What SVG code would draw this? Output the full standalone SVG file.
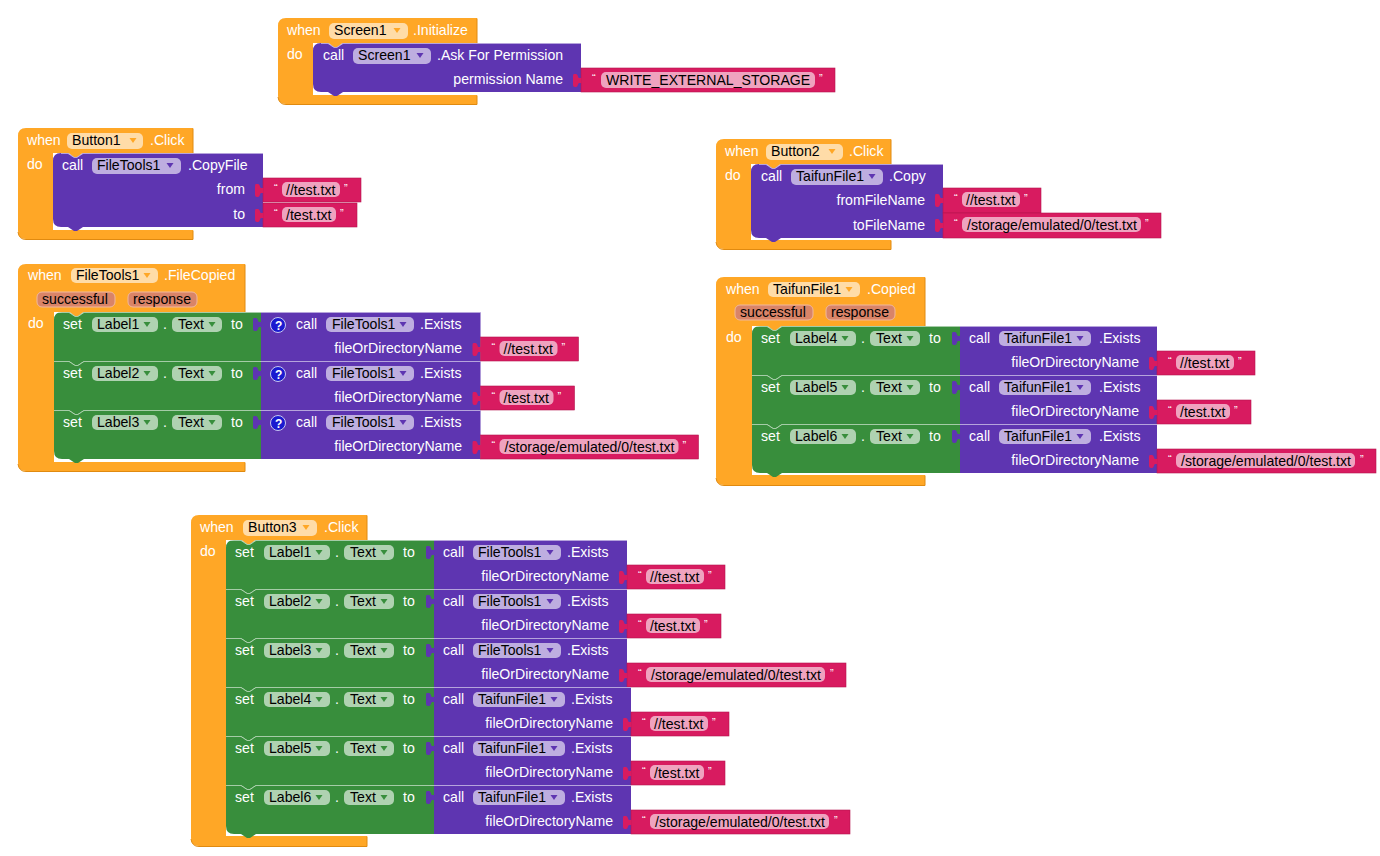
<svg xmlns="http://www.w3.org/2000/svg" width="1380" height="856" viewBox="0 0 1380 856">
<style>
text{font-family:"Liberation Sans",Arial,sans-serif;font-size:14.1px;fill:#fff}
text.k{fill:#000}
text.e{text-anchor:end}
text.q{font-size:11px}
text.h{font-size:12px;font-weight:bold}
.o{fill:#ffa726}.od{fill:none;stroke:#e08a10;stroke-width:1}
.p{fill:#5e35b1}.g{fill:#388e3c}.m{fill:#d81b60}
rect.m{stroke:#b5164f;stroke-width:.6}
.w{fill:#fff;fill-opacity:.6}
.pp{fill:#d98468;stroke:#f0b79e;stroke-width:1}
.hl{fill:none;stroke:#fff;stroke-opacity:.55;stroke-width:1}
.ic{fill:#1a1ad0;stroke:#c8c8f0}
</style>
<defs>
<path id="gt" d="M8,0H15l6,4h3l6,-4H208V49H30l-6,4h-3l-6,-4H0V8Q0,0 8,0Z"/>
<path id="gm" d="M0,0H15l6,4h3l6,-4H208V49H30l-6,4h-3l-6,-4H0Z"/>
<path id="gb" d="M0,0H15l6,4h3l6,-4H208V49H30l-6,4h-3l-6,-4H8Q0,49 0,41Z"/>
<path id="ghl" class="hl" d="M0,.5H15l6,4h3l6,-4H208"/>
<path id="dn" d="M-3.500,-2h7l-3.500,5z"/>
<path id="tab" d="M.5,10H-2C-3,10 -3,6 -5,6H-7Q-8,6 -8,8V17Q-8,19 -6,19H-5C-3,19 -3,15 -2,15H.5Z"/>
</defs>

<g id="when-screen1-initialize">
<path class="o" d="M278,26Q278,18 286,18H477V43H313V95H477V104H286Q278,104 278,96ZM328,42.500h15l-6,4.500h-3z"/>
<path class="od" d="M278,97Q279,104.500 286,104.500H477V95.500M477,18.500V43"/>
<text x="287" y="35.300">when</text><rect class="w" x="329" y="23" width="79" height="16" rx="5"/><text class="k" x="334" y="35.300">Screen1</text><use href="#dn" x="397" y="30" class="o"/><text x="413" y="35.300">.Initialize</text><text x="287" y="59.300">do</text>
<path class="p" d="M321,43H328l6,4h3l6,-4H581V92H343l-6,4h-3l-6,-4H321Q313,92 313,84V51Q313,43 321,43Z"/>
<path class="hl" d="M321,43.500H328l6,4h3l6,-4H581"/>
<text x="323" y="60.300">call</text><rect class="w" x="353" y="48" width="78" height="16" rx="5"/><text class="k" x="358" y="60.300">Screen1</text><use href="#dn" x="420" y="55" class="p"/><text x="437" y="60.300">.Ask For Permission</text><text class="e" x="563" y="84.300">permission Name</text>
<g transform="translate(581,68)"><rect class="m" width="254" height="24"/><use href="#tab" class="m"/><text class="q" x="11" y="14">“</text><rect class="w" x="20" y="4" width="214" height="16" rx="5"/><text class="k" x="25" y="16.500">WRITE_EXTERNAL_STORAGE</text><text class="q" x="238" y="14">”</text></g>
</g>

<g id="when-button1-click">
<path class="o" d="M18,136Q18,128 26,128H193V153H53V230H193V239H26Q18,239 18,231ZM68,152.500h15l-6,4.500h-3z"/>
<path class="od" d="M18,232Q19,239.500 26,239.500H193V230.500M193,128.500V153"/>
<text x="27" y="145.300">when</text><rect class="w" x="67" y="133" width="76" height="16" rx="5"/><text class="k" x="72" y="145.300">Button1</text><use href="#dn" x="133" y="140" class="o"/><text x="150" y="145.300">.Click</text><text x="27" y="169.300">do</text>
<path class="p" d="M61,153H68l6,4h3l6,-4H263V227H83l-6,4h-3l-6,-4H61Q53,227 53,219V161Q53,153 61,153Z"/>
<path class="hl" d="M61,153.500H68l6,4h3l6,-4H263"/>
<text x="62" y="170.300">call</text><rect class="w" x="92" y="158" width="89" height="16" rx="5"/><text class="k" x="97" y="170.300">FileTools1</text><use href="#dn" x="170" y="165" class="p"/><text x="188" y="170.300">.CopyFile</text><text class="e" x="245" y="194.300">from</text><text class="e" x="245" y="219.300">to</text>
<g transform="translate(263,178)"><rect class="m" width="98" height="24"/><use href="#tab" class="m"/><text class="q" x="11" y="14">“</text><rect class="w" x="19" y="4" width="58" height="15" rx="5"/><text class="k" x="23" y="16.500">//test.txt</text><text class="q" x="81" y="14">”</text></g>
<g transform="translate(263,203)"><rect class="m" width="94" height="24"/><use href="#tab" class="m"/><text class="q" x="11" y="14">“</text><rect class="w" x="19" y="4" width="54" height="15" rx="5"/><text class="k" x="23" y="16.500">/test.txt</text><text class="q" x="77" y="14">”</text></g>
</g>

<g id="when-button2-click">
<path class="o" d="M716,147Q716,139 724,139H891V164H751V240H891V249H724Q716,249 716,241ZM766,163.500h15l-6,4.500h-3z"/>
<path class="od" d="M716,242Q717,249.500 724,249.500H891V240.500M891,139.500V164"/>
<text x="725" y="156.300">when</text><rect class="w" x="766" y="144" width="77" height="16" rx="5"/><text class="k" x="771" y="156.300">Button2</text><use href="#dn" x="832" y="151" class="o"/><text x="849" y="156.300">.Click</text><text x="725" y="180.300">do</text>
<path class="p" d="M759,164H766l6,4h3l6,-4H943V238H781l-6,4h-3l-6,-4H759Q751,238 751,230V172Q751,164 759,164Z"/>
<path class="hl" d="M759,164.500H766l6,4h3l6,-4H943"/>
<text x="761" y="181.300">call</text><rect class="w" x="791" y="169" width="92" height="16" rx="5"/><text class="k" x="796" y="181.300">TaifunFile1</text><use href="#dn" x="872" y="176" class="p"/><text x="889" y="181.300">.Copy</text><text class="e" x="925" y="205.300">fromFileName</text><text class="e" x="925" y="230.300">toFileName</text>
<g transform="translate(943,188)"><rect class="m" width="98" height="25"/><use href="#tab" class="m"/><text class="q" x="11" y="14">“</text><rect class="w" x="19" y="4" width="58" height="15" rx="5"/><text class="k" x="23" y="16.500">//test.txt</text><text class="q" x="81" y="14">”</text></g>
<g transform="translate(943,213)"><rect class="m" width="218" height="25"/><use href="#tab" class="m"/><text class="q" x="11" y="14">“</text><rect class="w" x="19" y="4" width="179" height="15" rx="5"/><text class="k" x="24" y="16.500">/storage/emulated/0/test.txt</text><text class="q" x="202" y="14">”</text></g>
</g>

<g id="when-filetools1-filecopied">
<path class="o" d="M18,272Q18,264 26,264H245V312H54V462H245V471H26Q18,471 18,463ZM69,311.500h15l-6,4.500h-3z"/>
<path class="od" d="M18,464Q19,471.500 26,471.500H245V462.500M245,264.500V312"/>
<text x="28" y="280.300">when</text><rect class="w" x="71" y="268" width="87" height="15" rx="5"/><text class="k" x="76" y="280.300">FileTools1</text><use href="#dn" x="147" y="275" class="o"/><text x="164" y="280.300">.FileCopied</text>
<rect class="pp" x="37" y="292" width="78" height="15" rx="5"/><text class="k" x="42" y="304.300">successful</text><rect class="pp" x="128" y="292" width="69" height="15" rx="5"/><text class="k" x="133" y="304.300">response</text><text x="28" y="328.300">do</text>
<g transform="translate(54,312)"><use href="#gt" class="g"/><use href="#ghl"/><text x="9" y="17.300">set</text><rect class="w" x="38" y="5" width="66" height="15" rx="5"/><text class="k" x="43" y="17.300">Label1</text><use href="#dn" x="93" y="12" class="g"/><text x="109" y="17.300">.</text><rect class="w" x="118" y="5" width="50" height="15" rx="5"/><text class="k" x="124" y="17.300">Text</text><use href="#dn" x="158" y="12" class="g"/><text x="177" y="17.300">to</text></g>
<g transform="translate(54,361)"><use href="#gm" class="g"/><use href="#ghl"/><text x="9" y="17.300">set</text><rect class="w" x="38" y="5" width="66" height="15" rx="5"/><text class="k" x="43" y="17.300">Label2</text><use href="#dn" x="93" y="12" class="g"/><text x="109" y="17.300">.</text><rect class="w" x="118" y="5" width="50" height="15" rx="5"/><text class="k" x="124" y="17.300">Text</text><use href="#dn" x="158" y="12" class="g"/><text x="177" y="17.300">to</text></g>
<g transform="translate(54,410)"><use href="#gb" class="g"/><use href="#ghl"/><text x="9" y="17.300">set</text><rect class="w" x="38" y="5" width="66" height="15" rx="5"/><text class="k" x="43" y="17.300">Label3</text><use href="#dn" x="93" y="12" class="g"/><text x="109" y="17.300">.</text><rect class="w" x="118" y="5" width="50" height="15" rx="5"/><text class="k" x="124" y="17.300">Text</text><use href="#dn" x="158" y="12" class="g"/><text x="177" y="17.300">to</text></g>
<g transform="translate(261,312)"><rect class="p" width="219.500" height="49"/><use href="#tab" class="p"/><path class="hl" d="M0,.5H219.500"/><circle class="ic" cx="17" cy="13" r="7.500"/><text class="h" x="14" y="17.500">?</text><text x="35" y="17.300">call</text><rect class="w" x="65" y="5" width="88" height="15" rx="5"/><text class="k" x="71" y="17.300">FileTools1</text><use href="#dn" x="142" y="12" class="p"/><text x="159" y="17.300">.Exists</text><text class="e" x="201" y="41.300">fileOrDirectoryName</text>
<g transform="translate(219.500,25)"><rect class="m" width="98" height="24"/><use href="#tab" class="m"/><text class="q" x="11" y="14">“</text><rect class="w" x="19" y="4" width="58" height="15" rx="5"/><text class="k" x="23" y="16.500">//test.txt</text><text class="q" x="81" y="14">”</text></g></g>
<g transform="translate(261,361)"><rect class="p" width="219.500" height="49"/><use href="#tab" class="p"/><path class="hl" d="M0,.5H219.500"/><circle class="ic" cx="17" cy="13" r="7.500"/><text class="h" x="14" y="17.500">?</text><text x="35" y="17.300">call</text><rect class="w" x="65" y="5" width="88" height="15" rx="5"/><text class="k" x="71" y="17.300">FileTools1</text><use href="#dn" x="142" y="12" class="p"/><text x="159" y="17.300">.Exists</text><text class="e" x="201" y="41.300">fileOrDirectoryName</text>
<g transform="translate(219.500,25)"><rect class="m" width="94" height="24"/><use href="#tab" class="m"/><text class="q" x="11" y="14">“</text><rect class="w" x="19" y="4" width="54" height="15" rx="5"/><text class="k" x="23" y="16.500">/test.txt</text><text class="q" x="77" y="14">”</text></g></g>
<g transform="translate(261,410)"><rect class="p" width="219.500" height="49"/><use href="#tab" class="p"/><path class="hl" d="M0,.5H219.500"/><circle class="ic" cx="17" cy="13" r="7.500"/><text class="h" x="14" y="17.500">?</text><text x="35" y="17.300">call</text><rect class="w" x="65" y="5" width="88" height="15" rx="5"/><text class="k" x="71" y="17.300">FileTools1</text><use href="#dn" x="142" y="12" class="p"/><text x="159" y="17.300">.Exists</text><text class="e" x="201" y="41.300">fileOrDirectoryName</text>
<g transform="translate(219.500,25)"><rect class="m" width="218" height="24"/><use href="#tab" class="m"/><text class="q" x="11" y="14">“</text><rect class="w" x="19" y="4" width="179" height="15" rx="5"/><text class="k" x="24" y="16.500">/storage/emulated/0/test.txt</text><text class="q" x="202" y="14">”</text></g></g>
</g>

<g id="when-taifunfile1-copied">
<path class="o" d="M716,285Q716,277 724,277H925V326H752V475H925V485H724Q716,485 716,477ZM767,325.500h15l-6,4.500h-3z"/>
<path class="od" d="M716,478Q717,485.500 724,485.500H925V475.500M925,277.500V326"/>
<text x="726" y="294.300">when</text><rect class="w" x="768" y="282" width="92" height="15" rx="5"/><text class="k" x="773" y="294.300">TaifunFile1</text><use href="#dn" x="849" y="289" class="o"/><text x="867" y="294.300">.Copied</text>
<rect class="pp" x="735" y="305" width="78" height="15" rx="5"/><text class="k" x="740" y="317.300">successful</text><rect class="pp" x="826" y="305" width="69" height="15" rx="5"/><text class="k" x="831" y="317.300">response</text><text x="726" y="342.300">do</text>
<g transform="translate(752,326)"><use href="#gt" class="g"/><use href="#ghl"/><text x="9" y="17.300">set</text><rect class="w" x="38" y="5" width="66" height="15" rx="5"/><text class="k" x="43" y="17.300">Label4</text><use href="#dn" x="93" y="12" class="g"/><text x="109" y="17.300">.</text><rect class="w" x="118" y="5" width="50" height="15" rx="5"/><text class="k" x="124" y="17.300">Text</text><use href="#dn" x="158" y="12" class="g"/><text x="177" y="17.300">to</text></g>
<g transform="translate(752,375)"><use href="#gm" class="g"/><use href="#ghl"/><text x="9" y="17.300">set</text><rect class="w" x="38" y="5" width="66" height="15" rx="5"/><text class="k" x="43" y="17.300">Label5</text><use href="#dn" x="93" y="12" class="g"/><text x="109" y="17.300">.</text><rect class="w" x="118" y="5" width="50" height="15" rx="5"/><text class="k" x="124" y="17.300">Text</text><use href="#dn" x="158" y="12" class="g"/><text x="177" y="17.300">to</text></g>
<g transform="translate(752,424)"><use href="#gb" class="g"/><use href="#ghl"/><text x="9" y="17.300">set</text><rect class="w" x="38" y="5" width="66" height="15" rx="5"/><text class="k" x="43" y="17.300">Label6</text><use href="#dn" x="93" y="12" class="g"/><text x="109" y="17.300">.</text><rect class="w" x="118" y="5" width="50" height="15" rx="5"/><text class="k" x="124" y="17.300">Text</text><use href="#dn" x="158" y="12" class="g"/><text x="177" y="17.300">to</text></g>
<g transform="translate(960,326)"><rect class="p" width="197" height="49"/><use href="#tab" class="p"/><path class="hl" d="M0,.5H197"/><text x="9" y="17.300">call</text><rect class="w" x="39" y="5" width="92" height="15" rx="5"/><text class="k" x="44" y="17.300">TaifunFile1</text><use href="#dn" x="120" y="12" class="p"/><text x="139" y="17.300">.Exists</text><text class="e" x="179" y="41.300">fileOrDirectoryName</text>
<g transform="translate(197,25)"><rect class="m" width="98" height="24"/><use href="#tab" class="m"/><text class="q" x="11" y="14">“</text><rect class="w" x="19" y="4" width="58" height="15" rx="5"/><text class="k" x="23" y="16.500">//test.txt</text><text class="q" x="81" y="14">”</text></g></g>
<g transform="translate(960,375)"><rect class="p" width="197" height="49"/><use href="#tab" class="p"/><path class="hl" d="M0,.5H197"/><text x="9" y="17.300">call</text><rect class="w" x="39" y="5" width="92" height="15" rx="5"/><text class="k" x="44" y="17.300">TaifunFile1</text><use href="#dn" x="120" y="12" class="p"/><text x="139" y="17.300">.Exists</text><text class="e" x="179" y="41.300">fileOrDirectoryName</text>
<g transform="translate(197,25)"><rect class="m" width="94" height="24"/><use href="#tab" class="m"/><text class="q" x="11" y="14">“</text><rect class="w" x="19" y="4" width="54" height="15" rx="5"/><text class="k" x="23" y="16.500">/test.txt</text><text class="q" x="77" y="14">”</text></g></g>
<g transform="translate(960,424)"><rect class="p" width="197" height="49"/><use href="#tab" class="p"/><path class="hl" d="M0,.5H197"/><text x="9" y="17.300">call</text><rect class="w" x="39" y="5" width="92" height="15" rx="5"/><text class="k" x="44" y="17.300">TaifunFile1</text><use href="#dn" x="120" y="12" class="p"/><text x="139" y="17.300">.Exists</text><text class="e" x="179" y="41.300">fileOrDirectoryName</text>
<g transform="translate(197,25)"><rect class="m" width="219" height="24"/><use href="#tab" class="m"/><text class="q" x="11" y="14">“</text><rect class="w" x="19" y="4" width="179" height="15" rx="5"/><text class="k" x="24" y="16.500">/storage/emulated/0/test.txt</text><text class="q" x="203" y="14">”</text></g></g>
</g>

<g id="when-button3-click">
<path class="o" d="M191,523Q191,515 199,515H367V540H226V836H367V846H199Q191,846 191,838ZM241,539.500h15l-6,4.500h-3z"/>
<path class="od" d="M191,839Q192,846.500 199,846.500H367V836.500M367,515.500V540"/>
<text x="200" y="532.300">when</text><rect class="w" x="243" y="520" width="74" height="16" rx="5"/><text class="k" x="248" y="532.300">Button3</text><use href="#dn" x="306" y="527" class="o"/><text x="324" y="532.300">.Click</text><text x="200" y="556.300">do</text>
<g transform="translate(226,540)"><use href="#gt" class="g"/><use href="#ghl"/><text x="9" y="17.300">set</text><rect class="w" x="38" y="5" width="66" height="15" rx="5"/><text class="k" x="43" y="17.300">Label1</text><use href="#dn" x="93" y="12" class="g"/><text x="109" y="17.300">.</text><rect class="w" x="118" y="5" width="50" height="15" rx="5"/><text class="k" x="124" y="17.300">Text</text><use href="#dn" x="158" y="12" class="g"/><text x="177" y="17.300">to</text></g>
<g transform="translate(226,589)"><use href="#gm" class="g"/><use href="#ghl"/><text x="9" y="17.300">set</text><rect class="w" x="38" y="5" width="66" height="15" rx="5"/><text class="k" x="43" y="17.300">Label2</text><use href="#dn" x="93" y="12" class="g"/><text x="109" y="17.300">.</text><rect class="w" x="118" y="5" width="50" height="15" rx="5"/><text class="k" x="124" y="17.300">Text</text><use href="#dn" x="158" y="12" class="g"/><text x="177" y="17.300">to</text></g>
<g transform="translate(226,638)"><use href="#gm" class="g"/><use href="#ghl"/><text x="9" y="17.300">set</text><rect class="w" x="38" y="5" width="66" height="15" rx="5"/><text class="k" x="43" y="17.300">Label3</text><use href="#dn" x="93" y="12" class="g"/><text x="109" y="17.300">.</text><rect class="w" x="118" y="5" width="50" height="15" rx="5"/><text class="k" x="124" y="17.300">Text</text><use href="#dn" x="158" y="12" class="g"/><text x="177" y="17.300">to</text></g>
<g transform="translate(226,687)"><use href="#gm" class="g"/><use href="#ghl"/><text x="9" y="17.300">set</text><rect class="w" x="38" y="5" width="66" height="15" rx="5"/><text class="k" x="43" y="17.300">Label4</text><use href="#dn" x="93" y="12" class="g"/><text x="109" y="17.300">.</text><rect class="w" x="118" y="5" width="50" height="15" rx="5"/><text class="k" x="124" y="17.300">Text</text><use href="#dn" x="158" y="12" class="g"/><text x="177" y="17.300">to</text></g>
<g transform="translate(226,736)"><use href="#gm" class="g"/><use href="#ghl"/><text x="9" y="17.300">set</text><rect class="w" x="38" y="5" width="66" height="15" rx="5"/><text class="k" x="43" y="17.300">Label5</text><use href="#dn" x="93" y="12" class="g"/><text x="109" y="17.300">.</text><rect class="w" x="118" y="5" width="50" height="15" rx="5"/><text class="k" x="124" y="17.300">Text</text><use href="#dn" x="158" y="12" class="g"/><text x="177" y="17.300">to</text></g>
<g transform="translate(226,785)"><use href="#gb" class="g"/><use href="#ghl"/><text x="9" y="17.300">set</text><rect class="w" x="38" y="5" width="66" height="15" rx="5"/><text class="k" x="43" y="17.300">Label6</text><use href="#dn" x="93" y="12" class="g"/><text x="109" y="17.300">.</text><rect class="w" x="118" y="5" width="50" height="15" rx="5"/><text class="k" x="124" y="17.300">Text</text><use href="#dn" x="158" y="12" class="g"/><text x="177" y="17.300">to</text></g>
<g transform="translate(434,540)"><rect class="p" width="193" height="49"/><use href="#tab" class="p"/><path class="hl" d="M0,.5H193"/><text x="9" y="17.300">call</text><rect class="w" x="39" y="5" width="88" height="15" rx="5"/><text class="k" x="44" y="17.300">FileTools1</text><use href="#dn" x="116" y="12" class="p"/><text x="133" y="17.300">.Exists</text><text class="e" x="175" y="41.300">fileOrDirectoryName</text>
<g transform="translate(193,25)"><rect class="m" width="98" height="24"/><use href="#tab" class="m"/><text class="q" x="11" y="14">“</text><rect class="w" x="19" y="4" width="58" height="15" rx="5"/><text class="k" x="23" y="16.500">//test.txt</text><text class="q" x="81" y="14">”</text></g></g>
<g transform="translate(434,589)"><rect class="p" width="193" height="49"/><use href="#tab" class="p"/><path class="hl" d="M0,.5H193"/><text x="9" y="17.300">call</text><rect class="w" x="39" y="5" width="88" height="15" rx="5"/><text class="k" x="44" y="17.300">FileTools1</text><use href="#dn" x="116" y="12" class="p"/><text x="133" y="17.300">.Exists</text><text class="e" x="175" y="41.300">fileOrDirectoryName</text>
<g transform="translate(193,25)"><rect class="m" width="94" height="24"/><use href="#tab" class="m"/><text class="q" x="11" y="14">“</text><rect class="w" x="19" y="4" width="54" height="15" rx="5"/><text class="k" x="23" y="16.500">/test.txt</text><text class="q" x="77" y="14">”</text></g></g>
<g transform="translate(434,638)"><rect class="p" width="193" height="49"/><use href="#tab" class="p"/><path class="hl" d="M0,.5H193"/><text x="9" y="17.300">call</text><rect class="w" x="39" y="5" width="88" height="15" rx="5"/><text class="k" x="44" y="17.300">FileTools1</text><use href="#dn" x="116" y="12" class="p"/><text x="133" y="17.300">.Exists</text><text class="e" x="175" y="41.300">fileOrDirectoryName</text>
<g transform="translate(193,25)"><rect class="m" width="219" height="24"/><use href="#tab" class="m"/><text class="q" x="11" y="14">“</text><rect class="w" x="19" y="4" width="179" height="15" rx="5"/><text class="k" x="24" y="16.500">/storage/emulated/0/test.txt</text><text class="q" x="203" y="14">”</text></g></g>
<g transform="translate(434,687)"><rect class="p" width="197" height="49"/><use href="#tab" class="p"/><path class="hl" d="M0,.5H197"/><text x="9" y="17.300">call</text><rect class="w" x="39" y="5" width="92" height="15" rx="5"/><text class="k" x="44" y="17.300">TaifunFile1</text><use href="#dn" x="120" y="12" class="p"/><text x="137" y="17.300">.Exists</text><text class="e" x="179" y="41.300">fileOrDirectoryName</text>
<g transform="translate(197,25)"><rect class="m" width="98" height="24"/><use href="#tab" class="m"/><text class="q" x="11" y="14">“</text><rect class="w" x="19" y="4" width="58" height="15" rx="5"/><text class="k" x="23" y="16.500">//test.txt</text><text class="q" x="81" y="14">”</text></g></g>
<g transform="translate(434,736)"><rect class="p" width="197" height="49"/><use href="#tab" class="p"/><path class="hl" d="M0,.5H197"/><text x="9" y="17.300">call</text><rect class="w" x="39" y="5" width="92" height="15" rx="5"/><text class="k" x="44" y="17.300">TaifunFile1</text><use href="#dn" x="120" y="12" class="p"/><text x="137" y="17.300">.Exists</text><text class="e" x="179" y="41.300">fileOrDirectoryName</text>
<g transform="translate(197,25)"><rect class="m" width="94" height="24"/><use href="#tab" class="m"/><text class="q" x="11" y="14">“</text><rect class="w" x="19" y="4" width="54" height="15" rx="5"/><text class="k" x="23" y="16.500">/test.txt</text><text class="q" x="77" y="14">”</text></g></g>
<g transform="translate(434,785)"><rect class="p" width="197" height="49"/><use href="#tab" class="p"/><path class="hl" d="M0,.5H197"/><text x="9" y="17.300">call</text><rect class="w" x="39" y="5" width="92" height="15" rx="5"/><text class="k" x="44" y="17.300">TaifunFile1</text><use href="#dn" x="120" y="12" class="p"/><text x="137" y="17.300">.Exists</text><text class="e" x="179" y="41.300">fileOrDirectoryName</text>
<g transform="translate(197,25)"><rect class="m" width="219" height="24"/><use href="#tab" class="m"/><text class="q" x="11" y="14">“</text><rect class="w" x="19" y="4" width="179" height="15" rx="5"/><text class="k" x="24" y="16.500">/storage/emulated/0/test.txt</text><text class="q" x="203" y="14">”</text></g></g>
</g>
</svg>
